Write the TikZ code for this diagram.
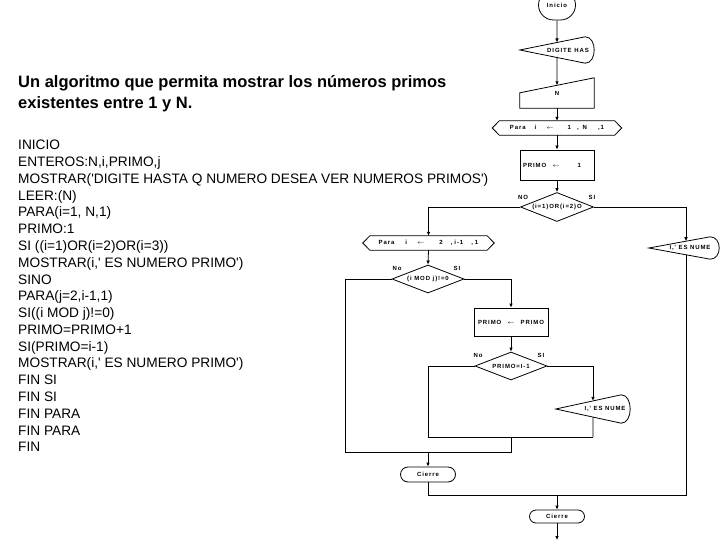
\documentclass[tikz,border=0pt]{standalone}
\usepackage{fontspec}
\setmainfont{Liberation Sans}[Ligatures=TeXOff]
\newfontfamily\flowfont{Liberation Sans}[LetterSpace=15,Ligatures=TeXOff]
\usetikzlibrary{shapes.geometric,shapes.misc,arrows.meta,calc}
\newcommand\dispshape[1]{%
  \coordinate (#1ne) at ([xshift=-9pt]#1.north east);
  \coordinate (#1se) at ([xshift=-9pt]#1.south east);
  \draw[ol] (#1.west) -- (#1ne) .. controls ([xshift=3pt]#1.north east) and ([xshift=3pt]#1.south east) .. (#1se) -- cycle;}
\newcommand\hexshape[1]{%
  \draw[ol] (#1.west) -- ([xshift=7pt]#1.north west) -- ([xshift=-7pt]#1.north east) -- (#1.east) -- ([xshift=-7pt]#1.south east) -- ([xshift=7pt]#1.south west) -- cycle;}
\begin{document}
\begin{tikzpicture}[x=1pt,y=-1pt,
  fc/.style={font=\flowfont\bfseries\fontsize{6}{7}\selectfont, inner sep=0pt},
  ol/.style={line width=0.8pt},
  ln/.style={line width=0.8pt},
  arr/.style={line width=0.8pt,-{Latex[length=4pt,width=3.6pt]}},
  term/.style={fc, draw, ol, rounded rectangle},
  proc/.style={fc, draw, ol, rectangle},
  dec/.style={fc, draw, ol, diamond, aspect=2.5},
  lab/.style={fc},
  title/.style={anchor=base west, inner sep=0pt, font=\bfseries\fontsize{16.5}{21}\selectfont},
  code/.style={anchor=north west, inner sep=0pt, align=left, font=\fontsize{13.7}{16.78}\selectfont}]
\useasboundingbox (0,0) rectangle (720,540);
\clip (0,0) rectangle (720,540);

% left texts
\node[title] (t1) at (18,87.5) {Un algoritmo que permita mostrar los números primos};
\node[title] (t2) at (18,109) {existentes entre 1 y N.};
\node[code] (code) at (18,140) {INICIO\\
ENTEROS:N,i,PRIMO,j\\
MOSTRAR('DIGITE HASTA Q NUMERO DESEA VER NUMEROS PRIMOS')\\
LEER:(N)\\
PARA(i=1, N,1)\\
PRIMO:1\\
SI ((i=1)OR(i=2)OR(i=3))\\
MOSTRAR(i,' ES NUMERO PRIMO')\\
SINO\\
PARA(j=2,i-1,1)\\
SI((i MOD j)!=0)\\
PRIMO=PRIMO+1\\
SI(PRIMO=i-1)\\
MOSTRAR(i,' ES NUMERO PRIMO')\\
FIN SI\\
FIN SI\\
FIN PARA\\
FIN PARA\\
FIN};

% flowchart nodes
\node[term, minimum width=37pt, minimum height=30pt] (ini) at (557,5) {Inicio};
\node[fc, minimum width=74pt, minimum height=26pt] (d1) at (557,50) {\hspace*{22pt}DIGITE HAS};
\dispshape{d1}
\node[fc, minimum width=74pt, minimum height=30pt] (n1) at (557,93) {\raisebox{-4pt}{N}};
\coordinate (n1tl) at ([yshift=-15pt]n1.north west);
\draw[ol] (n1.south west) -- (n1.south east) -- (n1.north east) -- (n1tl) -- cycle;
\node[fc, minimum width=129pt, minimum height=14pt] (p1) at (557,128) {Para\hspace{9pt}i\hspace{10pt}$\leftarrow$\hspace{14pt}1\hspace{6pt},\hspace{4pt}N\hspace{11pt},\hspace{1pt}1};
\hexshape{p1}
\node[proc, minimum width=74pt, minimum height=30pt, text width=68pt, align=left] (pr1) at (557,165) {PRIMO\hspace{6pt}$\leftarrow$\hspace{18pt}1};
\node[dec, minimum width=73pt, minimum height=29pt] (dc1) at (557,207) {(i=1)OR(i=2)O};
\node[lab] (no1) at (523,197) {NO};
\node[lab] (si1) at (592,197) {SI};

\node[fc, minimum width=131pt, minimum height=14pt] (p2) at (428.5,243) {Para\hspace{11pt}i\hspace{10pt}$\leftarrow$\hspace{15pt}2\hspace{8pt},\hspace{2pt}i-1\hspace{8pt},\hspace{2pt}1};
\hexshape{p2}
\node[dec, minimum width=72pt, minimum height=28pt] (dc2) at (428,279) {(i MOD j)!=0};
\node[lab] (no2) at (397,268) {No};
\node[lab] (si2) at (457,268) {SI};

\node[proc, minimum width=74pt, minimum height=28pt] (b2) at (511,322) {PRIMO\hspace{6pt}$\leftarrow$\hspace{6pt}PRIMO};
\node[dec, minimum width=72pt, minimum height=28pt] (dc3) at (511,366) {PRIMO=I-1};
\node[lab] (no3) at (478,355) {No};
\node[lab] (si3) at (541,355) {SI};

\node[fc, minimum width=74pt, minimum height=28pt] (d2) at (593,409) {\hspace*{24pt}I,' ES NUME};
\dispshape{d2}
\node[fc, minimum width=70pt, minimum height=22pt] (d3) at (684,248) {\hspace*{12pt}I,' ES NUME};
\dispshape{d3}

\node[term, minimum width=55pt, minimum height=15pt] (c1) at (428,474.5) {Cierre};
\node[term, minimum width=55pt, minimum height=13pt] (c2) at (557,516.5) {Cierre};

% helper coordinates
\coordinate (rx) at (686,0);
\coordinate (rx2) at (686,540);
\coordinate (jb) at (557,495);
\coordinate (ibl) at (428,437);
\coordinate (ibr) at (593,437);
\coordinate (ob) at (511,452);
\coordinate (obl) at (345,452);
\coordinate (endc) at (557,540);

% connectors
\draw[arr] (ini.south) -- (intersection of d1.west--d1ne and ini.south--d1.north);
\draw[arr] (intersection of d1.west--d1se and d1.north--d1.south) -- (intersection of n1tl--n1.north east and n1.north--n1.south);
\draw[arr] (n1.south) -- (p1.north);
\draw[arr] (p1.south) -- (pr1.north);
\draw[arr] (pr1.south) -- (dc1.north);
\draw[arr] (dc1.west) -| (p2.north);
\draw[arr] (dc1.east) -| (intersection of d3.west--d3ne and rx--rx2);
\draw[ln] (intersection of d3.west--d3se and rx--rx2) |- (jb);
\draw[ln] (c1.south) |- (jb);
\draw[arr] (jb) -- (c2.north);
\draw[arr] (c2.south) -- (endc);

\draw[arr] (p2.south) -- (dc2.north);
\draw[arr] (dc2.east) -| (b2.north);
\draw[arr] (b2.south) -- (dc3.north);
\draw[arr] (dc3.east) -| (intersection of d2.west--d2ne and d2.north--d2.south);
\draw[ln] (intersection of d2.west--d2se and d2.north--d2.south) -- (ibr);
\draw[ln] (dc3.west) -| (ibl) -- (ibr);
\draw[ln] (dc2.west) -| (obl) -- (ob) -- (ob |- ibl);
\draw[arr] (c1 |- obl) -- (c1.north);
\end{tikzpicture}
\end{document}
